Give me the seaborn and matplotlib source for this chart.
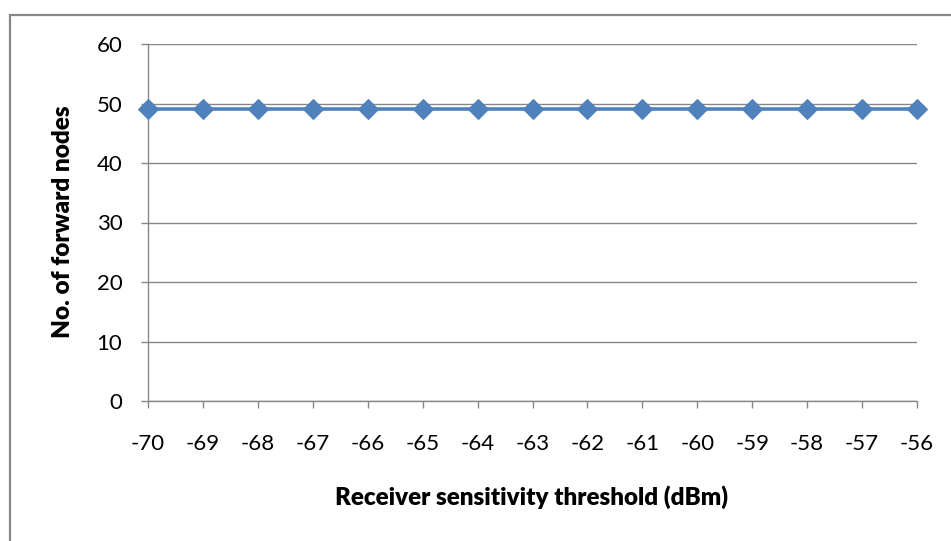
import matplotlib
matplotlib.use("Agg")
import matplotlib.pyplot as plt
import seaborn as sns
import pandas as pd
from matplotlib.patches import Rectangle

threshold_dbm = [-70, -69, -68, -67, -66, -65, -64, -63, -62, -61, -60, -59, -58, -57, -56]
forward_nodes = [49, 49, 49, 49, 49, 49, 49, 49, 49, 49, 49, 49, 49, 49, 49]
y_ticks = [0, 10, 20, 30, 40, 50, 60]

df = pd.DataFrame({"x": threshold_dbm, "y": forward_nodes})

sns.set_theme(style="white")
plt.rcParams["font.family"] = ["Lato", "DejaVu Sans"]

W, H = 951, 541
fig = plt.figure(figsize=(W / 100, H / 100), dpi=100)
fig.patch.set_facecolor("white")

# outer chart border (Excel style)
fig.patches.append(Rectangle((10 / W, -0.1), 1.2, (H - 15) / H + 0.1, transform=fig.transFigure,
                             fill=False, edgecolor="#878787", linewidth=1.6))

L, R, T, B = 148, 917, 44, 401
ax = fig.add_axes([L / W, 1 - B / H, (R - L) / W, (B - T) / H])

sns.lineplot(data=df, x="x", y="y", ax=ax, color="#4F81BD", linewidth=2.6,
             marker="D", markersize=10, markeredgecolor="#4F81BD", markerfacecolor="#4F81BD",
             clip_on=False, zorder=5)

ax.set_xlim(threshold_dbm[0], threshold_dbm[-1])
ax.set_ylim(0, 60)
ax.set_xticks(threshold_dbm)
ax.set_xticklabels([str(v) for v in threshold_dbm])
ax.set_yticks(y_ticks)
ax.set_yticklabels([str(v) for v in y_ticks])

ax.grid(axis="y", color="#878787", linewidth=1.0)
ax.set_axisbelow(True)
for s in ["top", "right"]:
    ax.spines[s].set_visible(False)
for s in ["left", "bottom"]:
    ax.spines[s].set_color("#878787")
    ax.spines[s].set_linewidth(1.0)

ax.tick_params(axis="both", which="both", direction="out", length=5, width=1.0,
               color="#878787", labelsize=16, labelcolor="black")
ax.tick_params(axis="x", pad=19, bottom=True)
ax.tick_params(axis="y", pad=13.5, left=True)

ax.set_xlabel("")
ax.set_ylabel("")
xl = fig.text(532 / W, 1 - 497 / H, "Receiver sensitivity threshold (dBm)", ha="center", va="center",
              fontsize=15, fontweight="heavy", color="black")
yl = fig.text(63 / W, 1 - 222 / H, "No. of forward nodes", ha="center", va="center", rotation=90,
              fontsize=15, fontweight="heavy", color="black")

# fit label sizes to the reference extents (pixels)
fig.canvas.draw()
r = fig.canvas.get_renderer()
wx = xl.get_window_extent(r).width
xl.set_fontsize(15 * 395 / wx)
hy = yl.get_window_extent(r).height
yl.set_fontsize(15 * 235 / hy)

fig.savefig("out.png", dpi=100)
